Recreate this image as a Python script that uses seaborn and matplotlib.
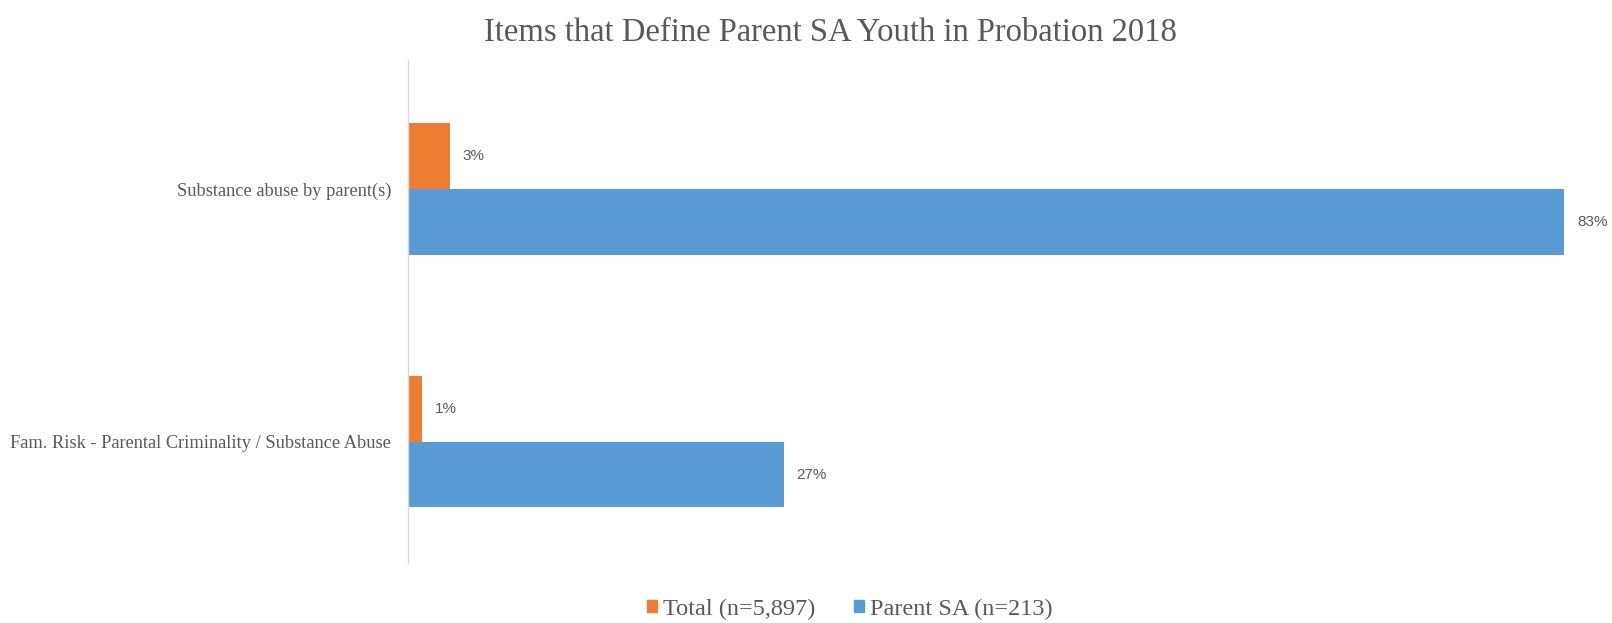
import matplotlib
matplotlib.use("Agg")
import matplotlib.pyplot as plt
import pandas as pd
import seaborn as sns
from matplotlib.patches import Patch

# data
categories = ["Substance abuse by parent(s)",
              "Fam. Risk - Parental Criminality / Substance Abuse"]
series = ["Total (n=5,897)", "Parent SA (n=213)"]
total_vals = [0.03, 0.01]
parent_sa_vals = [0.83, 0.27]

df = pd.DataFrame({
    "item": categories * 2,
    "group": [series[0]] * 2 + [series[1]] * 2,
    "share": total_vals + parent_sa_vals,
})

sns.set_theme(style="white")
plt.rcParams["font.family"] = ["Liberation Serif", "DejaVu Serif"]

ORANGE = "#ED7D31"
BLUE = "#5B9BD5"
TEXT = "#595959"

fig = plt.figure(figsize=(16.12, 6.23), dpi=100)
ax = fig.add_axes([0.2531, 0.0963, 0.7364, 0.8074])

sns.barplot(data=df, y="item", x="share", hue="group", order=categories,
            hue_order=series, palette=[ORANGE, BLUE], width=0.52,
            orient="h", ax=ax, legend=False, saturation=1, linewidth=0)

for cont in ax.containers:
    ax.bar_label(cont, labels=[f"{b.get_width():.0%}" for b in cont],
                 padding=9, fontsize=11, color=TEXT,
                 family=["Liberation Sans", "DejaVu Sans"])

ax.set_xlim(0, 0.852)
ax.set_ylim(1.48, -0.51)
ax.set_xlabel("")
ax.set_ylabel("")
ax.set_xticks([])
ax.tick_params(axis="y", length=0, pad=12, labelsize=13.2, labelcolor=TEXT)
for side in ["top", "right", "bottom"]:
    ax.spines[side].set_visible(False)
ax.spines["left"].set_color("#D9D9D9")
ax.spines["left"].set_linewidth(1.0)

fig.text(0.515, 0.948, "Items that Define Parent SA Youth in Probation 2018",
         ha="center", va="center", fontsize=23.5, color=TEXT)

handles = [Patch(color=ORANGE, label=series[0]),
           Patch(color=BLUE, label=series[1])]
fig.legend(handles=handles, loc="center", bbox_to_anchor=(0.527, 0.022),
           ncol=2, frameon=False, fontsize=17.5, labelcolor=TEXT,
           handlelength=0.4, handleheight=0.4, handletextpad=0.25,
           columnspacing=1.6)

fig.savefig("out.png", dpi=100)
